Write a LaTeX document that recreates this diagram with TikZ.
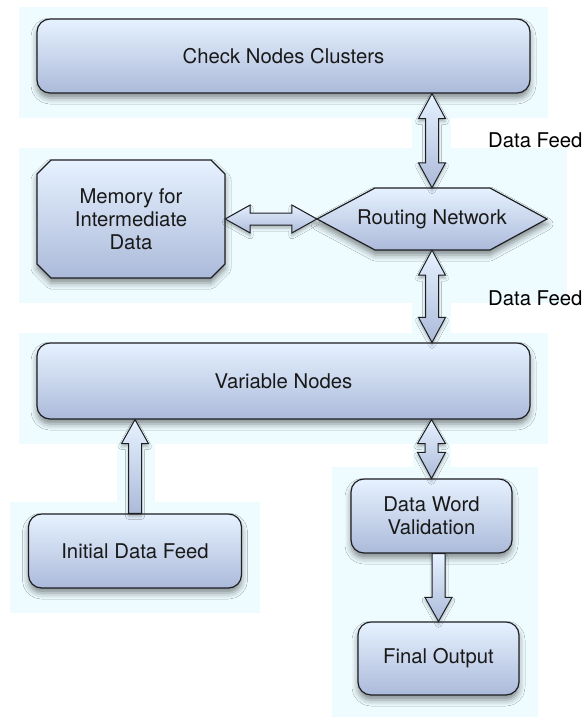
\documentclass[tikz,border=0pt]{standalone}
\usepackage{fontspec}
\setmainfont{TeX Gyre Heros}
\usetikzlibrary{calc,shadows.blur}
\definecolor{panel}{RGB}{238,252,255}
\definecolor{boxtop}{RGB}{230,242,255}
\definecolor{boxbot}{RGB}{172,186,218}
\definecolor{edge}{RGB}{30,30,35}
\definecolor{txt}{RGB}{25,25,25}
\tikzset{
  shapefill/.style={draw=edge, line width=1.2pt, top color=boxtop, bottom color=boxbot, line join=miter,
    blur shadow={shadow xshift=0pt, shadow yshift=-5pt, shadow blur radius=6pt, shadow opacity=45}},
  textonly/.style={text=txt, font=\fontsize{20.3}{23}\selectfont, align=center, inner sep=0pt, rectangle},
  roundbox/.style={shapefill, textonly, rounded corners=13pt},
  blockarrow/.style={draw=edge, line width=1pt, top color=boxtop, bottom color=boxbot, line join=miter,
    blur shadow={shadow xshift=0pt, shadow yshift=-3pt, shadow blur radius=3pt, shadow opacity=30}},
  panelbg/.style={fill=panel, draw=none},
  lbl/.style={font=\fontsize{20.3}{23}\selectfont, text=black, anchor=west, inner sep=0pt}
}
\begin{document}
\begin{tikzpicture}[x=1pt,y=-1pt]
\useasboundingbox (0,0) rectangle (584,717);
\fill[white] (0,0) rectangle (584,717);
% background panels
\fill[panelbg] (19,7) rectangle (548,118);
\fill[panelbg] (412,117) rectangle (451,149);
\fill[panelbg] (19,148) rectangle (567,303);
\fill[panelbg] (412,302) rectangle (451,334);
\fill[panelbg] (19,333) rectangle (548,444);
\fill[panelbg] (413,443) rectangle (451,468);
\fill[panelbg] (117,443) rectangle (155,503);
\fill[panelbg] (10,502) rectangle (260,613);
\fill[panelbg] (332,467) rectangle (538,717);
% special outlines
\path[shapefill] (37,174) -- (51,160) -- (211,160) -- (225,174) -- (225,264) -- (211,278)
  -- (51,278) -- (37,264) -- cycle;
\path[shapefill] (317,219) -- (375,188) -- (490,188) -- (547,219) -- (490,250) -- (375,250) -- cycle;
% nodes
\node[roundbox, minimum width=493pt, minimum height=74pt] (check) at (283.5,56) {Check Nodes Clusters};
\node[textonly, minimum width=188pt, minimum height=118pt] (mem) at (131,219) {Memory for\\Intermediate\\Data};
\node[textonly, minimum width=230pt, minimum height=62pt] (route) at (432,219) {Routing Network};
\node[roundbox, minimum width=493pt, minimum height=76pt] (var) at (283.5,381) {Variable Nodes};
\node[roundbox, minimum width=213pt, minimum height=74pt] (init) at (135,551) {Initial Data Feed};
\node[roundbox, minimum width=161pt, minimum height=74pt] (dwv) at (431.5,516) {Data Word\\Validation};
\node[roundbox, minimum width=161pt, minimum height=73pt] (final) at (438.5,658.5) {Final Output};
\node[lbl] (df1) at (488,140) {Data Feed};
\node[lbl] (df2) at (488,298) {Data Feed};
% block arrows
\draw[blockarrow] let \p1=(route.north |- check.south), \p2=(route.north) in
  (\x1,\y1) -- (\x1+13.5pt,\y1-25pt) -- (\x1+6.5pt,\y1-25pt) -- (\x1+6.5pt,\y2+25pt) -- (\x1+13.5pt,\y2+25pt)
  -- (\x1,\y2) -- (\x1-13.5pt,\y2+25pt) -- (\x1-6.5pt,\y2+25pt) -- (\x1-6.5pt,\y1-25pt) -- (\x1-13.5pt,\y1-25pt) -- cycle;
\draw[blockarrow] let \p1=(route.south), \p2=(route.south |- var.north) in
  (\x1,\y1) -- (\x1+13.5pt,\y1-25pt) -- (\x1+6.5pt,\y1-25pt) -- (\x1+6.5pt,\y2+25pt) -- (\x1+13.5pt,\y2+25pt)
  -- (\x1,\y2) -- (\x1-13.5pt,\y2+25pt) -- (\x1-6.5pt,\y2+25pt) -- (\x1-6.5pt,\y1-25pt) -- (\x1-13.5pt,\y1-25pt) -- cycle;
\draw[blockarrow] let \p1=(dwv.north |- var.south), \p2=(dwv.north) in
  (\x1,\y1) -- (\x1+14pt,\y1-24pt) -- (\x1+6.5pt,\y1-24pt) -- (\x1+6.5pt,\y2+26pt) -- (\x1+14pt,\y2+26pt)
  -- (\x1,\y2) -- (\x1-14pt,\y2+26pt) -- (\x1-6.5pt,\y2+26pt) -- (\x1-6.5pt,\y1-24pt) -- (\x1-14pt,\y1-24pt) -- cycle;
\draw[blockarrow] let \p1=(mem.east), \p2=(route.west) in
  (\x1,\y1) -- (\x1+25pt,\y1+14pt) -- (\x1+25pt,\y1+6pt) -- (\x2-25pt,\y1+6pt) -- (\x2-25pt,\y1+14pt)
  -- (\x2,\y1) -- (\x2-25pt,\y1-14pt) -- (\x2-25pt,\y1-6pt) -- (\x1+25pt,\y1-6pt) -- (\x1+25pt,\y1-14pt) -- cycle;
\draw[blockarrow] let \p1=(init.north |- var.south), \p2=(init.north) in
  (\x1,\y1) -- (\x1+13.5pt,\y1-24pt) -- (\x1+6.5pt,\y1-24pt) -- (\x1+6.5pt,\y2) -- (\x1-6.5pt,\y2)
  -- (\x1-6.5pt,\y1-24pt) -- (\x1-13.5pt,\y1-24pt) -- cycle;
\draw[blockarrow] let \p1=(final.north |- dwv.south), \p2=(final.north) in
  (\x1+6.5pt,\y1) -- (\x1+6.5pt,\y2+24pt) -- (\x1+13.5pt,\y2+24pt) -- (\x1,\y2) -- (\x1-13.5pt,\y2+24pt)
  -- (\x1-6.5pt,\y2+24pt) -- (\x1-6.5pt,\y1) -- cycle;
\end{tikzpicture}
\end{document}
